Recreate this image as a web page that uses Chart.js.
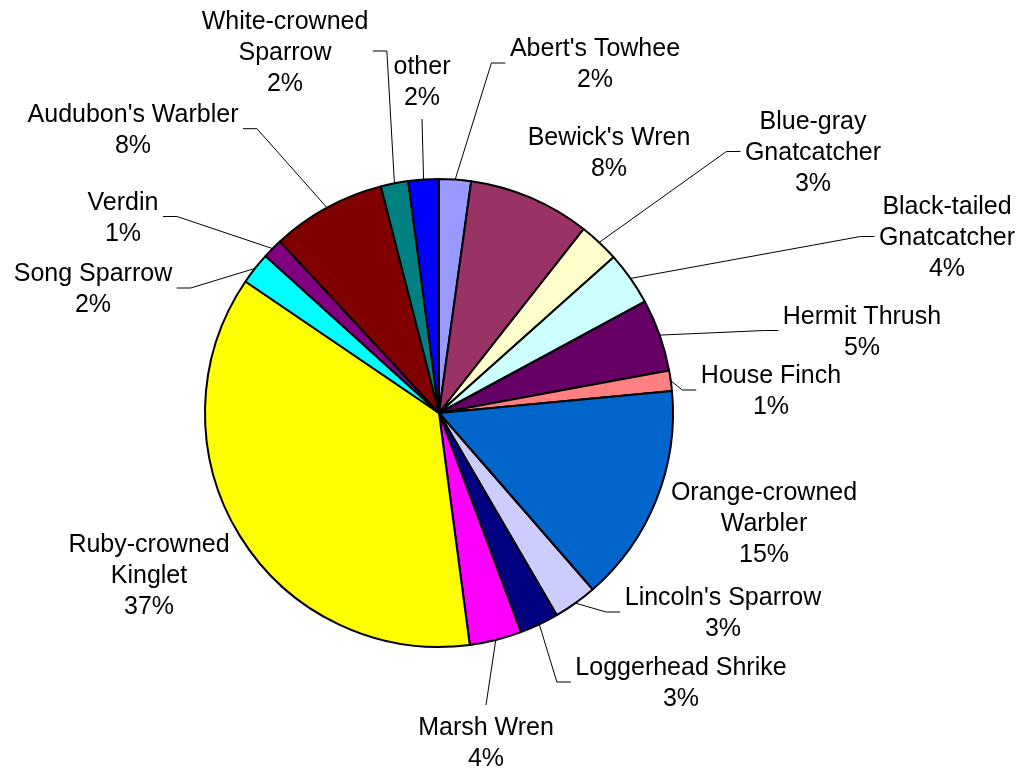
<!DOCTYPE html>
<html>
<head>
<meta charset="utf-8">
<script src="https://cdn.jsdelivr.net/npm/chart.js@4.4.1/dist/chart.umd.min.js"></script>
<style>
  html, body { margin: 0; padding: 0; background: #ffffff; }
  canvas { display: block; }
</style>
</head>
<body>
<canvas id="birdPie" width="1027" height="769"></canvas>
<script>
// Species, clockwise from 12 o'clock
const species = [
  "Abert's Towhee",
  "Bewick's Wren",
  ["Blue-gray", "Gnatcatcher"],
  ["Black-tailed", "Gnatcatcher"],
  "Hermit Thrush",
  "House Finch",
  ["Orange-crowned", "Warbler"],
  "Lincoln's Sparrow",
  "Loggerhead Shrike",
  "Marsh Wren",
  ["Ruby-crowned", "Kinglet"],
  "Song Sparrow",
  "Verdin",
  "Audubon's Warbler",
  ["White-crowned", "Sparrow"],
  "other"
];

// Share of all birds recorded (%)
const shares = [2.2, 8.4, 2.8, 3.7, 5.0, 1.4, 15.1, 3.0, 2.7, 3.6, 36.6, 2.2, 1.4, 7.9, 1.9, 2.1];

const sliceColors = [
  "#9999FF", "#993366", "#FFFFCC", "#CCFFFF", "#660066", "#FF8080",
  "#0066CC", "#CCCCFF", "#000080", "#FF00FF", "#FFFF00", "#00FFFF",
  "#800080", "#800000", "#008080", "#0000FF"
];

// Callout layout: offset of the label from the pie centre (x of text centre,
// y of first baseline) and which side of the label the leader line meets.
const labelPlacement = [
  [156, -357, "left"],
  [170, -268, null],
  [374, -284, "left"],
  [508, -199, "left"],
  [423, -89.5, "left"],
  [332, -30, "left"],
  [325, 86.5, null],
  [284, 192, "left"],
  [242, 262, "left"],
  [47, 322, "top"],
  [-290, 139, null],
  [-346, -132, "right"],
  [-316, -203.5, "right"],
  [-306, -291.3, "right"],
  [-154, -384.5, "right"],
  [-17, -339, "bottom"]
];

const LABEL_FONT = '25px "Liberation Sans", Arial, sans-serif';
const LINE_H = 31;

// Draws the category / percentage callouts with their leader lines
const calloutPlugin = {
  id: "callouts",
  afterDatasetsDraw(chart) {
    const ctx = chart.ctx;
    const meta = chart.getDatasetMeta(0);
    const values = chart.data.datasets[0].data;
    const total = values.reduce((a, b) => a + b, 0);
    ctx.save();
    ctx.font = LABEL_FONT;
    ctx.fillStyle = "#000000";
    ctx.strokeStyle = "#000000";
    ctx.lineWidth = 1;
    ctx.textAlign = "center";
    ctx.textBaseline = "alphabetic";
    meta.data.forEach((arc, i) => {
      const name = chart.data.labels[i];
      const lines = Array.isArray(name) ? name.slice() : [name];
      lines.push(Math.round(values[i] / total * 100) + "%");
      const [dx, dy, side] = labelPlacement[i];
      const cx = arc.x + dx;
      const y0 = arc.y + dy;
      lines.forEach((t, k) => ctx.fillText(t, cx, y0 + k * LINE_H));
      if (!side) return;
      const mid = (arc.startAngle + arc.endAngle) / 2;
      const r = arc.outerRadius;
      const px = arc.x + Math.cos(mid) * r;
      const py = arc.y + Math.sin(mid) * r;
      const w = Math.max(...lines.map(t => ctx.measureText(t).width));
      const midY = y0 + (lines.length - 1) * LINE_H / 2 - 8.5;
      let ex, ey, sx, sy;
      if (side === "left") {
        ex = cx - w / 2 - 4.5; ey = midY; sx = ex - 14; sy = ey;
      } else if (side === "right") {
        ex = cx + w / 2 + 4.5; ey = midY; sx = ex + 14; sy = ey;
      } else if (side === "top") {
        ex = cx; ey = y0 - 30; sx = ex; sy = ey;
      } else {
        ex = cx; ey = y0 + (lines.length - 1) * LINE_H + 14; sx = ex; sy = ey;
      }
      ctx.beginPath();
      ctx.moveTo(px, py);
      ctx.lineTo(sx, sy);
      ctx.lineTo(ex, ey);
      ctx.stroke();
    });
    ctx.restore();
  }
};

new Chart(document.getElementById("birdPie"), {
  type: "pie",
  data: {
    labels: species,
    datasets: [{
      data: shares,
      backgroundColor: sliceColors,
      borderColor: "#000000",
      borderWidth: 2
    }]
  },
  options: {
    responsive: false,
    animation: false,
    devicePixelRatio: 1,
    layout: { padding: { left: 204, right: 353, top: 178, bottom: 121 } },
    plugins: {
      legend: { display: false },
      tooltip: { enabled: false }
    }
  },
  plugins: [calloutPlugin]
});
</script>
</body>
</html>
